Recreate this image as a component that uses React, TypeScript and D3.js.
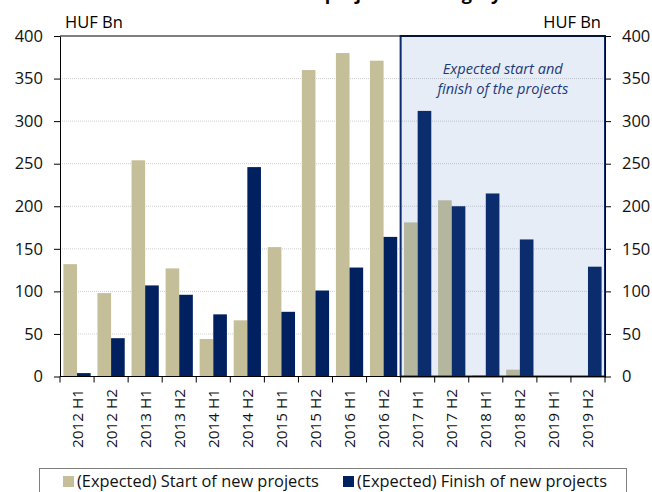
import { useEffect, useRef } from 'react';
import * as d3 from 'd3';

const periods = [
  '2012 H1', '2012 H2', '2013 H1', '2013 H2', '2014 H1', '2014 H2', '2015 H1', '2015 H2',
  '2016 H1', '2016 H2', '2017 H1', '2017 H2', '2018 H1', '2018 H2', '2019 H1', '2019 H2',
];
const startValues = [132, 98, 254, 127, 44, 66, 152, 360, 380, 371, 181, 207, 1.5, 8, 0, 0];
const finishValues = [4, 45, 107, 96, 73, 246, 76, 101, 128, 164, 312, 200, 215, 161, 0, 129];
const yTicks = [0, 50, 100, 150, 200, 250, 300, 350, 400];
const seriesNames = ['(Expected) Start of new projects', '(Expected) Finish of new projects'];
const expectedFrom = '2017 H1';

const TAN = '#c5bf99';
const NAVY = '#002060';
const FONT = '"Open Sans", sans-serif';

const App = () => {
  const svgRef = useRef<SVGSVGElement>(null);
  const width = 652;
  const height = 492;
  const margins = { top: 36, right: 47, bottom: 115, left: 60 };

  useEffect(() => {
    const svg = d3.select(svgRef.current);
    svg.selectAll('*').remove();

    const x0 = d3.scaleBand()
      .domain(periods)
      .range([margins.left, width - margins.right])
      .paddingInner(0.2)
      .paddingOuter(0.1);
    const x1 = d3.scaleBand()
      .domain(['start', 'finish'])
      .range([0, x0.bandwidth()]);
    const yScale = d3.scaleLinear()
      .domain([0, 400])
      .range([height - margins.bottom - 0.5, margins.top]);

    const step = x0.step();
    const left = margins.left;
    const right = width - margins.right;

    // title, cut off at the top of the picture (only descenders show)
    svg.append('text')
      .attr('x', 330)
      .attr('y', 0)
      .attr('text-anchor', 'middle')
      .style('font-family', FONT)
      .style('font-size', '18px')
      .style('font-weight', 'bold')
      .text('Start and finish of projects in Hungary');

    // grid
    svg.append('g')
      .selectAll('line')
      .data(yTicks.filter(t => t > 0 && t < 400))
      .join('line')
      .attr('x1', left)
      .attr('x2', right)
      .attr('y1', d => yScale(d))
      .attr('y2', d => yScale(d))
      .attr('stroke', '#cfcfcf')
      .attr('stroke-dasharray', '1,1');

    const groups = svg.append('g')
      .selectAll('g')
      .data(periods)
      .join('g')
      .attr('transform', d => `translate(${x0(d)},0)`);

    groups.append('rect')
      .attr('x', x1('start')!)
      .attr('width', x1.bandwidth())
      .attr('y', (_, i) => yScale(startValues[i]))
      .attr('height', (_, i) => yScale(0) - yScale(startValues[i]))
      .attr('fill', TAN);

    groups.append('rect')
      .attr('x', x1('finish')!)
      .attr('width', x1.bandwidth())
      .attr('y', (_, i) => yScale(finishValues[i]))
      .attr('height', (_, i) => yScale(0) - yScale(finishValues[i]))
      .attr('fill', NAVY);

    // expected period box
    const boxX = x0(expectedFrom)! - step * 0.1;
    svg.append('rect')
      .attr('x', boxX)
      .attr('y', yScale(400))
      .attr('width', right - boxX)
      .attr('height', yScale(0) - yScale(400))
      .attr('fill', '#4f81bd')
      .attr('fill-opacity', 0.14)
      .attr('stroke', '#0b2a6b')
      .attr('stroke-width', 2);

    svg.append('text')
      .attr('x', (boxX + right) / 2)
      .attr('y', 74)
      .attr('text-anchor', 'middle')
      .style('font-family', FONT)
      .style('font-size', '14.6px')
      .style('font-style', 'italic')
      .attr('fill', '#1f3a78')
      .selectAll('tspan')
      .data(['Expected start and', 'finish of the projects'])
      .join('tspan')
      .attr('x', (boxX + right) / 2)
      .attr('dy', (_, i) => (i === 0 ? 0 : 20))
      .text(d => d);

    // top border
    svg.append('line')
      .attr('x1', left).attr('x2', right)
      .attr('y1', yScale(400)).attr('y2', yScale(400))
      .attr('stroke', 'black');

    const yLeft = svg.append('g')
      .attr('transform', `translate(${left},0)`)
      .call(d3.axisLeft(yScale).tickValues(yTicks).tickSize(6).tickSizeOuter(0).tickPadding(11));
    const yRight = svg.append('g')
      .attr('transform', `translate(${right},0)`)
      .call(d3.axisRight(yScale).tickValues(yTicks).tickSize(6).tickSizeOuter(0).tickPadding(11));
    [yLeft, yRight].forEach(ax => {
      ax.selectAll('text').style('font-family', FONT).style('font-size', '16.5px').attr('fill', '#111');
    });

    // bottom axis with ticks at category boundaries
    svg.append('line')
      .attr('x1', left).attr('x2', right)
      .attr('y1', yScale(0)).attr('y2', yScale(0))
      .attr('stroke', 'black');
    svg.append('g')
      .selectAll('line')
      .data(d3.range(periods.length + 1))
      .join('line')
      .attr('x1', i => left + i * step)
      .attr('x2', i => left + i * step)
      .attr('y1', yScale(0))
      .attr('y2', yScale(0) + 6)
      .attr('stroke', 'black');

    svg.append('g')
      .selectAll('text')
      .data(periods)
      .join('text')
      .attr('transform', d => `translate(${x0(d)! + x0.bandwidth() / 2},389) rotate(-90)`)
      .attr('text-anchor', 'end')
      .attr('dy', '0.36em')
      .style('font-family', FONT)
      .style('font-size', '15.3px')
      .attr('fill', '#111')
      .text(d => d);

    // unit labels
    svg.append('text')
      .attr('x', 65).attr('y', 28)
      .style('font-family', FONT).style('font-size', '16.5px')
      .text('HUF Bn');
    svg.append('text')
      .attr('x', 601).attr('y', 28)
      .attr('text-anchor', 'end')
      .style('font-family', FONT).style('font-size', '16.5px')
      .text('HUF Bn');

    // legend
    svg.append('rect')
      .attr('x', 39.5).attr('y', 468.5)
      .attr('width', 587).attr('height', 40)
      .attr('fill', 'white')
      .attr('stroke', '#7f7f7f');
    const legendX = [63, 343];
    const legend = svg.append('g')
      .selectAll('g')
      .data(seriesNames)
      .join('g')
      .attr('transform', (_, i) => `translate(${legendX[i]},0)`);
    legend.append('rect')
      .attr('y', 476).attr('width', 11).attr('height', 11)
      .attr('fill', (_, i) => (i === 0 ? TAN : NAVY));
    legend.append('text')
      .attr('x', 14).attr('y', 487)
      .style('font-family', FONT).style('font-size', '16.4px')
      .attr('fill', '#111')
      .text(d => d);
  }, []);

  return (
    <svg
      ref={svgRef}
      width={width}
      height={height}
      style={{ position: 'absolute', left: 0, top: 0, background: 'white' }}
    ></svg>
  );
};

export default App;
